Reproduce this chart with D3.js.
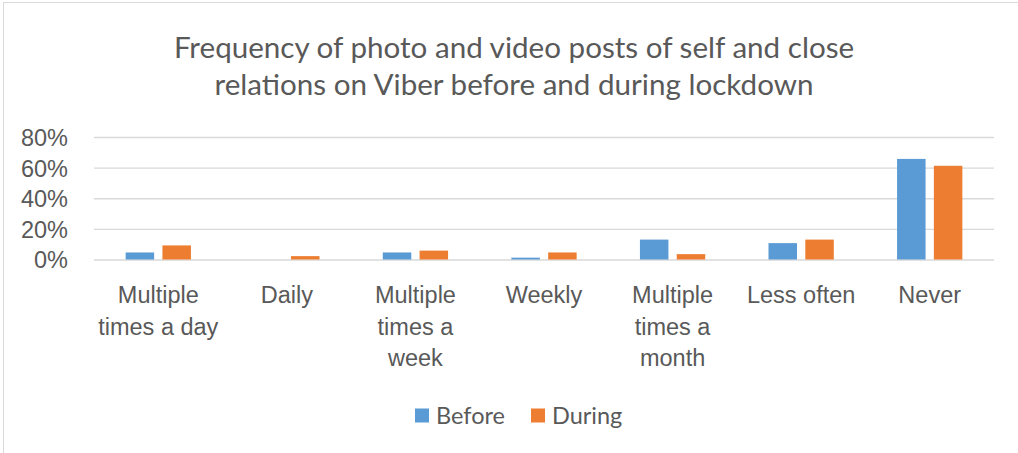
<!DOCTYPE html>
<html>
<head>
<meta charset="utf-8">
<script src="https://cdn.jsdelivr.net/npm/d3@7"></script>
<style>
  body { margin: 0; background: #fff; }
  svg { display: block; font-family: Lato, "Open Sans", sans-serif; }
  .axis path { display: none; }
  .axis--y .tick line { stroke: #d9d9d9; stroke-width: 1.3; }
  .axis text { fill: #595959; }
</style>
</head>
<body>
<div id="chart"></div>
<script>
// categories and values
var categories = ["Multiple times a day", "Daily", "Multiple times a week", "Weekly",
                  "Multiple times a month", "Less often", "Never"];
var tickLines = [["Multiple", "times a day"], ["Daily"], ["Multiple", "times a", "week"], ["Weekly"],
                 ["Multiple", "times a", "month"], ["Less often"], ["Never"]];
var seriesNames = ["Before", "During"];
var before = [0.046, 0, 0.046, 0.012, 0.13, 0.107, 0.657];
var during = [0.092, 0.022, 0.058, 0.046, 0.035, 0.13, 0.612];
var yTicks = [0, 0.2, 0.4, 0.6, 0.8];
var colors = ["#5b9bd5", "#ed7d31"];

var width = 1018, height = 453;
var margin = {top: 137, right: 24, bottom: 193.5, left: 94};
var w = width - margin.left - margin.right,
    h = height - margin.top - margin.bottom;

var svg = d3.select("#chart").append("svg")
    .attr("width", width)
    .attr("height", height);

// chart frame (cropped at right and bottom)
svg.append("rect")
    .attr("x", 3.5).attr("y", 2.5)
    .attr("width", 1040).attr("height", 480)
    .attr("fill", "none")
    .attr("stroke", "#d9d9d9")
    .attr("stroke-width", 1);

svg.append("text")
    .attr("x", 514)
    .attr("text-anchor", "middle")
    .attr("fill", "#595959")
    .style("font-size", "29.6px")
  .selectAll("tspan")
  .data(["Frequency of photo and video posts of self and close",
         "relations on Viber before and during lockdown"])
  .enter().append("tspan")
    .attr("x", 514)
    .attr("y", function(d, i) { return 58 + i * 37; })
    .text(function(d) { return d; });

var g = svg.append("g")
    .attr("transform", "translate(" + margin.left + "," + margin.top + ")");

var x0 = d3.scaleBand().domain(categories).range([0, w]).padding(0);
var x1 = d3.scaleBand().domain(seriesNames).range([0, x0.bandwidth()])
    .paddingInner(0.2255).paddingOuter(0.86);
var y = d3.scaleLinear().domain([0, 0.8]).range([h, 0]);

g.append("g")
    .attr("class", "axis axis--y")
    .call(d3.axisLeft(y).tickValues(yTicks).tickSize(-w).tickPadding(26)
      .tickFormat(d3.format(".0%")))
    .selectAll("text")
    .style("font-size", "23.5px")
    .attr("dy", "0.36em");

var rows = categories.map(function(c, i) {
  return {cat: c, values: [before[i], during[i]]};
});

g.selectAll(".group")
  .data(rows)
  .enter().append("g")
    .attr("class", "group")
    .attr("transform", function(d) { return "translate(" + x0(d.cat) + ",0)"; })
  .selectAll("rect")
  .data(function(d) {
    return d.values.map(function(v, i) { return {name: seriesNames[i], value: v, i: i}; });
  })
  .enter().append("rect")
    .attr("x", function(d) { return x1(d.name); })
    .attr("y", function(d) { return y(d.value); })
    .attr("width", x1.bandwidth())
    .attr("height", function(d) { return h - y(d.value); })
    .attr("fill", function(d) { return colors[d.i]; });

// category labels
var xAxis = g.append("g")
    .attr("class", "axis axis--x")
    .attr("transform", "translate(0," + h + ")")
    .call(d3.axisBottom(x0).tickSize(0).tickFormat(""));

xAxis.selectAll(".tick").each(function(d, i) {
  var t = d3.select(this).append("text")
      .attr("text-anchor", "middle")
      .style("font-size", "23.5px");
  t.selectAll("tspan")
    .data(tickLines[i])
    .enter().append("tspan")
      .attr("x", 0)
      .attr("y", function(l, j) { return 43.5 + j * 31.7; })
      .text(function(l) { return l; });
});

// legend
var legend = svg.append("g").attr("transform", "translate(0,0)");
var legendX = [415, 531];
seriesNames.forEach(function(s, i) {
  legend.append("rect")
      .attr("x", legendX[i]).attr("y", 408.5)
      .attr("width", 14).attr("height", 14)
      .attr("fill", colors[i]);
  legend.append("text")
      .attr("x", legendX[i] + 21).attr("y", 423.5)
      .attr("fill", "#595959")
      .style("font-size", "23.5px")
      .text(s);
});
</script>
</body>
</html>
